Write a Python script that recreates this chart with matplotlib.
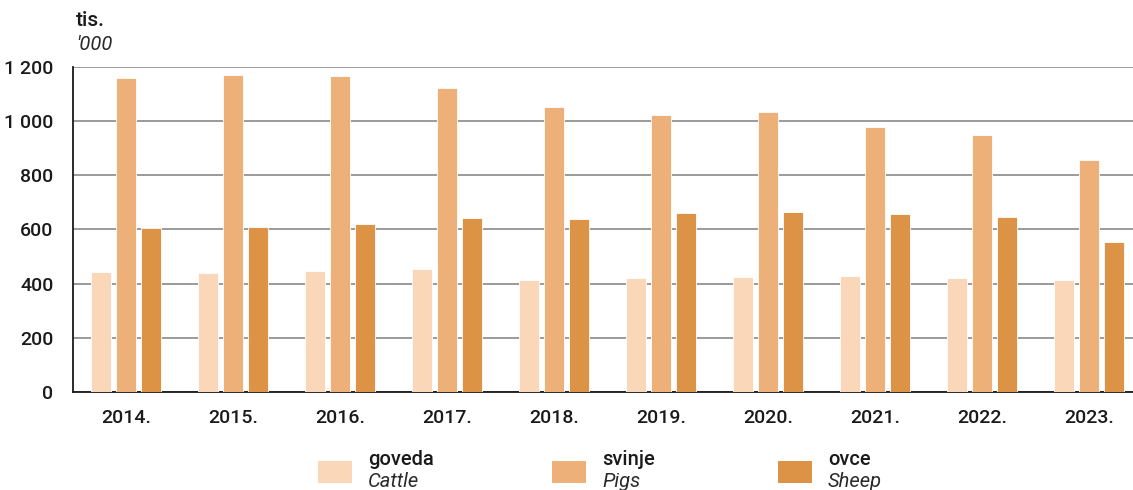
import matplotlib
matplotlib.use("Agg")
import matplotlib.pyplot as plt
from matplotlib.patches import Rectangle
import numpy as np

plt.rcParams['font.family'] = ['Roboto', 'DejaVu Sans']

# data (thousands)
years = ["2014.", "2015.", "2016.", "2017.", "2018.", "2019.", "2020.", "2021.", "2022.", "2023."]
cattle = [443, 439, 447, 454, 413, 421, 425, 428, 422, 414]
pigs = [1159, 1170, 1167, 1122, 1052, 1023, 1034, 976, 948, 857]
sheep = [605, 609, 620, 642, 639, 661, 665, 656, 645, 553]

names_hr = ["goveda", "svinje", "ovce"]
names_en = ["Cattle", "Pigs", "Sheep"]
colors = ["#FBD7B9", "#EEB079", "#DD9345"]

fig = plt.figure(figsize=(11.33, 4.9), dpi=100)
ax = fig.add_axes([73/1133, 0.2, 1 - 73/1133, 0.864 - 0.2])

x = np.arange(len(years))
w = 0.19
step = 0.234
for i, (vals, c) in enumerate(zip([cattle, pigs, sheep], colors)):
    ax.bar(x + (i - 1)*step, vals, width=w, color=c, edgecolor="white", linewidth=0.6, zorder=3)

ax.set_xlim(-0.495, 9.41)
ax.set_ylim(0, 1200)
ax.set_yticks(range(0, 1201, 200))
ax.set_yticklabels(["0", "200", "400", "600", "800", "1 000", "1 200"])
ax.set_xticks(x)
ax.set_xticklabels(years)
ax.tick_params(length=0, labelsize=14, colors="#1a1a1a")
for lab in ax.get_xticklabels() + ax.get_yticklabels():
    lab.set_fontweight("medium")
ax.tick_params(axis="y", pad=14)
ax.tick_params(axis="x", pad=12)
ax.yaxis.grid(True, color="#8a8a8a", linewidth=1.2, zorder=0)
ax.set_axisbelow(True)
for s in ["top", "right"]:
    ax.spines[s].set_visible(False)
ax.spines["left"].set_color("#1a1a1a")
ax.spines["bottom"].set_color("#1a1a1a")
ax.spines["left"].set_linewidth(1.3)
ax.spines["bottom"].set_linewidth(1.3)

fig.text(76/1133, 1 - 21/490, "tis.", fontsize=15, fontweight="medium", color="#1a1a1a", va="center", ha="left")
fig.text(76/1133, 1 - 44/490, "'000", fontsize=14.5, color="#2a2a2a", style="italic", va="center", ha="left")

# legend
leg_x = [318, 552, 778]
for lx, c, hr, en in zip(leg_x, colors, names_hr, names_en):
    fig.add_artist(Rectangle((lx/1133, 1 - 483/490), 34/1133, 22/490, transform=fig.transFigure,
                             facecolor=c, edgecolor="none"))
    fig.text((lx + 50)/1133, 1 - 459/490, hr, fontsize=14.5, fontweight="medium", color="#1a1a1a", va="center", ha="left")
    fig.text((lx + 50)/1133, 1 - 481/490, en, fontsize=14.5, style="italic", color="#2a2a2a", va="center", ha="left")

fig.savefig("out.png", dpi=100, facecolor="white")
